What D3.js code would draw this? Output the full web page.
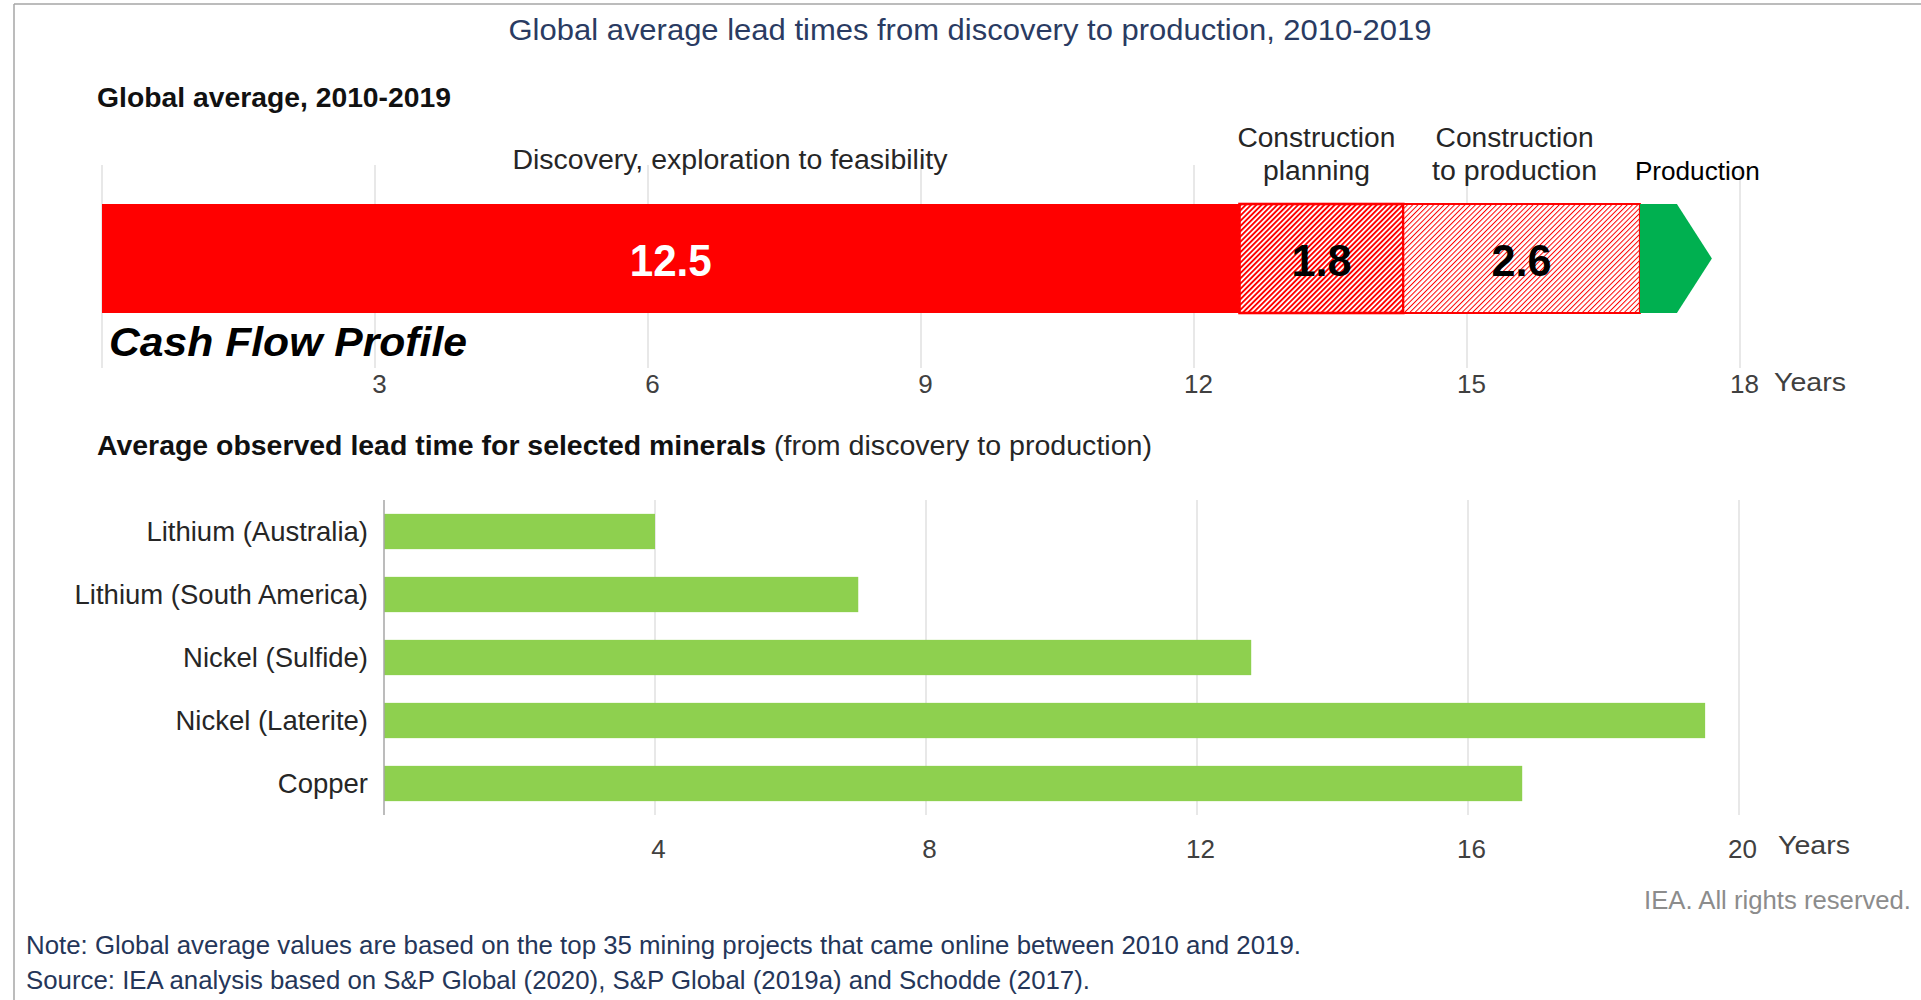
<!DOCTYPE html>
<html><head><meta charset="utf-8">
<script src="https://cdn.jsdelivr.net/npm/d3@7"></script>
<style>
html,body{margin:0;padding:0;background:#fff;}
svg{display:block;}
text{font-family:"Liberation Sans",Arial,sans-serif;}
</style>
</head><body>
<svg id="chart" width="1921" height="1000"></svg>
<script>
// ---------- DATA ----------
const chartTitle = "Global average lead times from discovery to production, 2010-2019";
const topHeader = "Global average, 2010-2019";
const phaseNames = ["Discovery, exploration to feasibility", "Construction planning", "Construction to production"];
const phaseYears = [12.5, 1.8, 2.6];
const phaseLabels = ["12.5", "1.8", "2.6"];
const topTickValues = [3, 6, 9, 12, 15, 18];
const minerals = ["Lithium (Australia)", "Lithium (South America)", "Nickel (Sulfide)", "Nickel (Laterite)", "Copper"];
const leadTimes = [4.0, 7.0, 12.8, 19.5, 16.8];
const bottomTickValues = [4, 8, 12, 16, 20];
const bottomHeaderBold = "Average observed lead time for selected minerals";
const bottomHeaderRegular = "(from discovery to production)";
const noteText = "Note: Global average values are based on the top 35 mining projects that came online between 2010 and 2019.";
const sourceText = "Source: IEA analysis based on S&P Global (2020), S&P Global (2019a) and Schodde (2017).";
const rightsText = "IEA. All rights reserved.";

// ---------- SETUP ----------
const svg = d3.select("#chart");
const FONT = '"Liberation Sans", Arial, sans-serif';

// frame
svg.append("line").attr("x1",14).attr("x2",14).attr("y1",4).attr("y2",1000).attr("stroke","#a6a6a6").attr("stroke-width",1.5);
svg.append("line").attr("x1",14).attr("x2",1921).attr("y1",4).attr("y2",4).attr("stroke","#a6a6a6").attr("stroke-width",1.5);

function txt(s, x, y, opts) {
  const t = svg.append("text").attr("x", x).attr("y", y).text(s)
    .attr("font-size", opts.size).attr("fill", opts.fill || "#262626")
    .attr("text-anchor", opts.anchor || "start");
  if (opts.weight) t.attr("font-weight", opts.weight);
  if (opts.style) t.attr("font-style", opts.style);
  if (opts.family) t.attr("font-family", opts.family);
  if (opts.len) t.attr("textLength", opts.len).attr("lengthAdjust", "spacingAndGlyphs");
  return t;
}

// title
txt(chartTitle, 970, 40, {size: 30, fill: "#2a3b62", anchor: "middle", len: 923});
txt(topHeader, 97, 107, {size: 27, weight: "bold", fill: "#111", len: 354});

// ---------- TOP CHART ----------
const xTop = d3.scaleLinear().domain([0, 18]).range([102, 1740]);
const barTop = 204, barBottom = 313;

const defs = svg.append("defs");
function hatch(id, w) {
  const p = defs.append("pattern").attr("id", id).attr("patternUnits", "userSpaceOnUse")
    .attr("width", 3.7).attr("height", 3.7).attr("patternTransform", "rotate(45)");
  p.append("rect").attr("width", 3.7).attr("height", 3.7).attr("fill", "#fff");
  p.append("rect").attr("width", w).attr("height", 3.7).attr("fill", "#ff0000");
}
hatch("hatchDense", 1.9);
hatch("hatchLight", 1.0);

// grid
svg.append("g").selectAll("line").data([0].concat(topTickValues)).join("line")
  .attr("x1", d => xTop(d)).attr("x2", d => xTop(d))
  .attr("y1", 165).attr("y2", 368)
  .attr("stroke", "#d9d9d9").attr("stroke-width", 1.2);

const starts = [0].concat(Array.from(d3.cumsum(phaseYears)).slice(0, -1));
const fills = ["#ff0000", "url(#hatchDense)", "url(#hatchLight)"];
svg.append("g").selectAll("rect").data(phaseYears).join("rect")
  .attr("x", (d, i) => xTop(starts[i]))
  .attr("width", (d, i) => xTop(starts[i] + d) - xTop(starts[i]))
  .attr("y", barTop).attr("height", barBottom - barTop)
  .attr("fill", (d, i) => fills[i])
  .attr("stroke", (d, i) => i === 0 ? "none" : "#ff0000")
  .attr("stroke-width", (d, i) => i === 1 ? 2.6 : 2);

// production arrow
const endYears = d3.sum(phaseYears);
const ax = xTop(endYears);
svg.append("path")
  .attr("d", `M${ax},${barTop}L${ax + 37},${barTop}L${ax + 72},${(barTop + barBottom) / 2}L${ax + 37},${barBottom}L${ax},${barBottom}Z`)
  .attr("fill", "#00b050");

// value labels
svg.append("g").selectAll("text").data(phaseYears).join("text")
  .attr("x", (d, i) => xTop(starts[i] + d / 2))
  .attr("y", 276)
  .attr("text-anchor", "middle")
  .attr("font-family", "Lato, 'Open Sans', sans-serif")
  .attr("font-weight", "bold")
  .attr("font-size", 44)
  .attr("fill", (d, i) => i === 0 ? "#fff" : "#000")
  .attr("textLength", (d, i) => i === 0 ? 82 : 60)
  .attr("lengthAdjust", "spacingAndGlyphs")
  .text((d, i) => phaseLabels[i]);

// phase name labels
txt(phaseNames[0], xTop(6.9), 169, {size: 27, len: 435, anchor: "middle"});
const cp = phaseNames[1].split(" ");
txt(cp[0], xTop(starts[1] + phaseYears[1] / 2) - 5, 147, {size: 27, anchor: "middle", len: 158});
txt(cp[1], xTop(starts[1] + phaseYears[1] / 2) - 5, 180, {size: 27, anchor: "middle", len: 107});
const ctp = phaseNames[2];
txt("Construction", xTop(starts[2] + phaseYears[2] / 2) - 7, 147, {size: 27, anchor: "middle", len: 158});
txt(ctp.replace("Construction ", ""), xTop(starts[2] + phaseYears[2] / 2) - 7, 180, {size: 27, anchor: "middle", len: 165});
txt("Production", ax - 5, 180, {size: 26, fill: "#000", len: 125});

// Cash Flow Profile
txt("Cash Flow Profile", 109, 356, {size: 41, weight: "bold", style: "italic", fill: "#000", len: 358});

// top axis labels
const topAxis = svg.append("g").attr("transform", "translate(0,393)")
  .call(d3.axisBottom(xTop).tickValues(topTickValues).tickSize(0).tickFormat(d3.format("d")));
topAxis.select(".domain").remove();
topAxis.selectAll("text").attr("y", 0).attr("dy", 0).attr("font-size", 26)
  .attr("font-family", FONT).attr("fill", "#404040").attr("dx", 4);
txt("Years", 1774, 391, {size: 26, fill: "#404040", len: 72});

// ---------- BOTTOM CHART ----------
txt(bottomHeaderBold, 97, 455, {size: 27, weight: "bold", fill: "#111", len: 669});
txt(bottomHeaderRegular, 774, 455, {size: 27, fill: "#262626", len: 378});

const xBot = d3.scaleLinear().domain([0, 20]).range([384, 1739]);
const yBot = d3.scaleBand().domain(minerals).range([500, 815]).paddingInner(0.44).paddingOuter(0.22);

svg.append("g").selectAll("line").data(bottomTickValues).join("line")
  .attr("x1", d => xBot(d)).attr("x2", d => xBot(d))
  .attr("y1", 500).attr("y2", 815)
  .attr("stroke", "#d9d9d9").attr("stroke-width", 1.2);

svg.append("g").selectAll("rect").data(leadTimes).join("rect")
  .attr("x", xBot(0))
  .attr("y", (d, i) => yBot(minerals[i]))
  .attr("width", d => xBot(d) - xBot(0))
  .attr("height", yBot.bandwidth())
  .attr("fill", "#8ed04f");

svg.append("line").attr("x1", xBot(0)).attr("x2", xBot(0)).attr("y1", 500).attr("y2", 815)
  .attr("stroke", "#a6a6a6").attr("stroke-width", 1.5);

const yAxis = svg.append("g").attr("transform", "translate(368,0)")
  .call(d3.axisLeft(yBot).tickSize(0).tickPadding(0));
yAxis.select(".domain").remove();
yAxis.selectAll("text").attr("font-size", 27.5).attr("font-family", FONT).attr("fill", "#262626")
  .attr("dy", "0.36em").attr("x", 0);

const bAxis = svg.append("g").attr("transform", "translate(0,858)")
  .call(d3.axisBottom(xBot).tickValues(bottomTickValues).tickSize(0).tickFormat(d3.format("d")));
bAxis.select(".domain").remove();
bAxis.selectAll("text").attr("y", 0).attr("dy", 0).attr("font-size", 26)
  .attr("font-family", FONT).attr("fill", "#404040").attr("dx", 3);
txt("Years", 1778, 854, {size: 26, fill: "#404040", len: 72});

// ---------- FOOTER ----------
txt(rightsText, 1911, 909, {size: 25, fill: "#8c8c8c", anchor: "end", len: 267});
txt(noteText, 26, 954, {size: 25, fill: "#253659", len: 1275});
txt(sourceText, 26, 989, {size: 25, fill: "#253659", len: 1064});
</script>
</body></html>
